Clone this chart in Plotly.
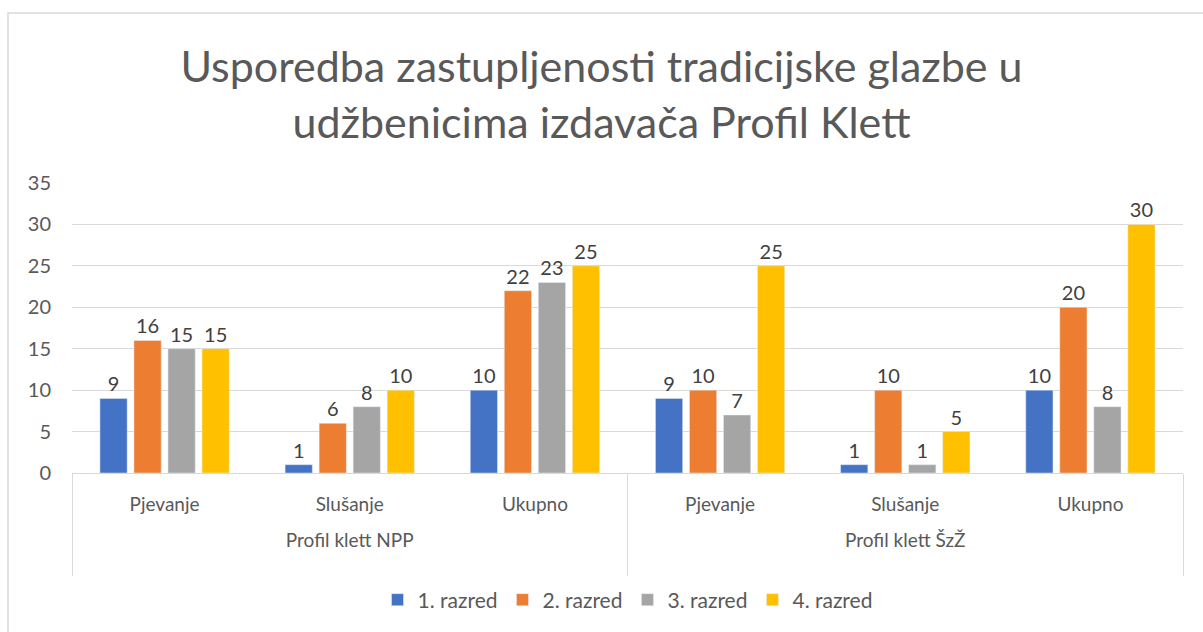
import plotly.graph_objects as go

groups = ["Profil klett NPP"] * 3 + ["Profil klett ŠzŽ"] * 3
subcats = ["Pjevanje", "Slušanje", "Ukupno", "Pjevanje", "Slušanje", "Ukupno"]
series_names = ["1. razred", "2. razred", "3. razred", "4. razred"]
razred1 = [9, 1, 10, 9, 1, 10]
razred2 = [16, 6, 22, 10, 10, 20]
razred3 = [15, 8, 23, 7, 1, 8]
razred4 = [15, 10, 25, 25, 5, 30]
colors = ["#4472C4", "#ED7D31", "#A5A5A5", "#FFC000"]
y_ticks = [0, 5, 10, 15, 20, 25, 30, 35]

FONT = "Lato, Open Sans, sans-serif"
GREY = "#595959"

# extra blank line under each label to mimic Excel's taller label rows
group_labels = [g + "<br>\u00a0" for g in groups]
sub_labels = [s + "<br>\u00a0" for s in subcats]

fig = go.Figure()
for name, vals, c in zip(series_names, [razred1, razred2, razred3, razred4], colors):
    fig.add_trace(go.Bar(
        x=[group_labels, sub_labels], y=vals, name=name, marker_color=c,
        text=vals, textposition="outside", cliponaxis=False,
        textfont=dict(size=20, color="#404040", family=FONT),
    ))

fig.update_layout(
    width=1203, height=632,
    paper_bgcolor="white", plot_bgcolor="white",
    margin=dict(l=72, r=20, t=183, b=157),
    barmode="group", bargap=0.265, bargroupgap=0.2,
    font=dict(family=FONT, color=GREY, size=19),
    title=dict(text="Usporedba zastupljenosti tradicijske glazbe u<br>udžbenicima izdavača Profil Klett",
               x=0.5, xanchor="center", y=1 - 82 / 632, yanchor="middle",
               font=dict(size=43, color=GREY, family=FONT)),
    legend=dict(orientation="h", x=0.5, xanchor="center", y=-0.438, yanchor="middle",
                font=dict(size=21, color=GREY), traceorder="normal"),
    showlegend=True,
)
fig.update_yaxes(range=[0, 35], tickvals=y_ticks, showgrid=True, gridcolor="#D9D9D9",
                 gridwidth=1, zeroline=False, showline=False, ticks="",
                 tickfont=dict(size=20, color=GREY), ticklabelstandoff=20, automargin=False)
fig.update_xaxes(type="multicategory", showline=True, linecolor="#D9D9D9", linewidth=1,
                 showdividers=True, dividercolor="#D9D9D9", dividerwidth=1,
                 ticks="", tickfont=dict(size=19, color=GREY), ticklabelstandoff=14,
                 automargin=False)
fig.add_shape(type="rect", xref="paper", yref="paper",
              x0=-0.0576, x1=1.05, y0=-0.7, y1=1.586,
              line=dict(color="#D9D9D9", width=1.5), layer="below")

fig.write_html("out.html")
